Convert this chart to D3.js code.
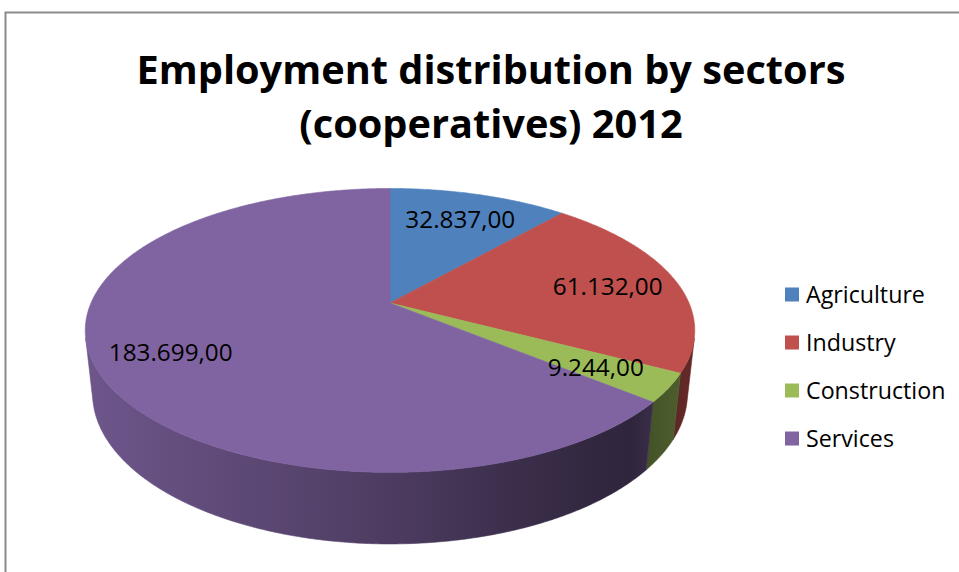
<!DOCTYPE html>
<html>
<head>
<meta charset="utf-8">
<script src="https://cdn.jsdelivr.net/npm/d3@7"></script>
<style>
  html, body { margin: 0; padding: 0; background: #ffffff; }
  svg { display: block; }
</style>
</head>
<body>
<svg id="chart" width="959" height="572"></svg>
<script>
// ---- data ----
const sectors = ["Agriculture", "Industry", "Construction", "Services"];
const employees = [32837, 61132, 9244, 183699];
const sectorColors = ["#4f81bd", "#c0504d", "#9bbb59", "#8064a2"];
const titleLines = ["Employment distribution by sectors", "(cooperatives) 2012"];

// European number style: 183.699,00
const euro = d3.formatLocale({ decimal: ",", thousands: ".", grouping: [3], currency: ["", ""] });
const fmt = euro.format(",.2f");

// ---- layout ----
const W = 959, H = 572;
const FONT = "'Open Sans', 'Noto Sans', sans-serif";
const svg = d3.select("#chart");

// chart area frame
svg.append("rect")
  .attr("x", 5.5).attr("y", 12.5)
  .attr("width", W + 20).attr("height", H + 20)
  .attr("fill", "#ffffff")
  .attr("stroke", "#8a8a8a").attr("stroke-width", 2);

// fit a font size so that a given string spans a given width
function fitSize(str, weight, width) {
  const t = svg.append("text").attr("font-family", FONT).attr("font-weight", weight)
    .attr("font-size", 100).text(str);
  const w = t.node().getComputedTextLength();
  t.remove();
  return 100 * width / w;
}

// ---- 3D pie camera (perspective) ----
const view = { cx: 390, cy: 303, f: 1378, dist: 1, radius: 0.217, depth: 0.0518, tilt: Math.asin(0.457) };
const sT = Math.sin(view.tilt), cT = Math.cos(view.tilt);

// world: X right, Y up, Z away from viewer; pie top face lies at Y = 0
function project(X, Y, Z) {
  const qy = Y - view.dist * sT;
  const qz = Z + view.dist * cT;
  const zc = -qy * sT + qz * cT;
  const yc = qy * cT + qz * sT;
  return [view.cx + view.f * X / zc, view.cy - view.f * yc / zc];
}
// point on the disc: angle clockwise from 12 o'clock, rho as share of radius
function disc(phi, rho, Y) {
  return project(rho * view.radius * Math.sin(phi), Y, rho * view.radius * Math.cos(phi));
}
function arcPoints(a, b, rho, Y) {
  const n = Math.max(2, Math.ceil(Math.abs(b - a) / (Math.PI / 360)));
  return d3.range(n + 1).map(i => disc(a + (b - a) * i / n, rho, Y));
}

const pie = d3.pie().sort(null).value(d => d).startAngle(0).endAngle(2 * Math.PI);
const slices = pie(employees);
const line = d3.line().curve(d3.curveLinear);

// the rim is seen only where its outward normal faces the camera
const k0 = view.radius / (view.dist * cT);
const visA = Math.acos(-k0), visB = 2 * Math.PI - visA;
const leftX = disc(visB, 1, 0)[0], rightX = disc(visA, 1, 0)[0];

// rim shading from left (lit) to right (shadow)
const shade = [
  [85, 0.86], [200, 0.76], [300, 0.68], [390, 0.60], [480, 0.50],
  [560, 0.42], [630, 0.37], [655, 0.46], [695, 0.52]
];
const defs = svg.append("defs");
sectorColors.forEach((c, i) => {
  const base = d3.rgb(c);
  const g = defs.append("linearGradient").attr("id", "rim" + i)
    .attr("gradientUnits", "userSpaceOnUse")
    .attr("x1", leftX).attr("x2", rightX).attr("y1", 0).attr("y2", 0);
  shade.forEach(([x, f]) => {
    g.append("stop")
      .attr("offset", Math.max(0, Math.min(1, (x - leftX) / (rightX - leftX))))
      .attr("stop-color", d3.rgb(base.r * f, base.g * f, base.b * f).formatHex());
  });
});

const pieG = svg.append("g");

// rim (side walls)
slices.forEach((s, i) => {
  const a = Math.max(s.startAngle, visA), b = Math.min(s.endAngle, visB);
  if (a >= b) return;
  const pts = arcPoints(a, b, 1, 0).concat(arcPoints(b, a, 1, -view.depth));
  pieG.append("path")
    .attr("d", line(pts) + "Z")
    .attr("fill", `url(#rim${i})`)
    .attr("stroke", `url(#rim${i})`).attr("stroke-width", 0.6);
});

// top faces
slices.forEach((s, i) => {
  const pts = [project(0, 0, 0)].concat(arcPoints(s.startAngle, s.endAngle, 1, 0));
  pieG.append("path")
    .attr("d", line(pts) + "Z")
    .attr("fill", sectorColors[i])
    .attr("stroke", sectorColors[i]).attr("stroke-width", 0.6)
    .attr("stroke-linejoin", "round");
});

// value labels
const labelSize = fitSize(fmt(employees[0]), 400, 110);
slices.forEach((s, i) => {
  const mid = (s.startAngle + s.endAngle) / 2;
  const p = disc(mid, 0.76, 0);
  svg.append("text")
    .attr("x", p[0]).attr("y", p[1] + 1)
    .attr("text-anchor", "middle").attr("dominant-baseline", "central")
    .attr("font-family", FONT).attr("font-size", labelSize)
    .attr("fill", "#000000")
    .text(fmt(employees[i]));
});

// title
const titleSize = fitSize(titleLines[0], 700, 709);
const titleBase = [84, 138];
titleLines.forEach((t, i) => {
  svg.append("text")
    .attr("x", 491).attr("y", titleBase[i])
    .attr("text-anchor", "middle")
    .attr("font-family", FONT).attr("font-weight", 700)
    .attr("font-size", titleSize).attr("fill", "#000000")
    .text(t);
});

// legend
const legendSize = fitSize(sectors[0], 400, 119);
const legendY = d3.scalePoint().domain(sectors).range([294, 438]);
const leg = svg.append("g");
sectors.forEach((name, i) => {
  const y = legendY(name);
  leg.append("rect")
    .attr("x", 785).attr("y", y - 6.5)
    .attr("width", 14).attr("height", 14)
    .attr("fill", sectorColors[i]);
  leg.append("text")
    .attr("x", 806).attr("y", y)
    .attr("dominant-baseline", "central")
    .attr("font-family", FONT).attr("font-size", legendSize)
    .attr("fill", "#000000")
    .text(name);
});
</script>
</body>
</html>
